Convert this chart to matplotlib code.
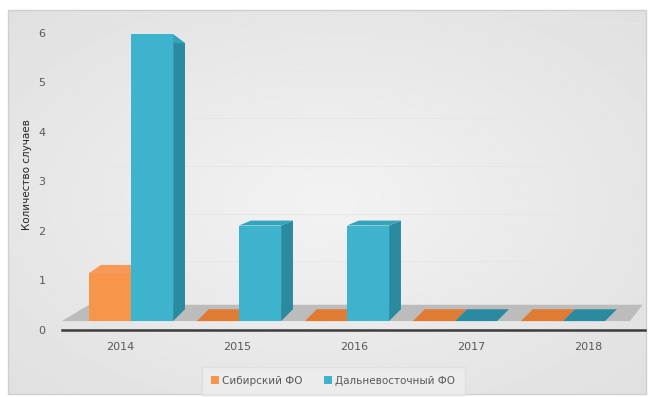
import numpy as np
import matplotlib.pyplot as plt
from matplotlib.patches import Polygon, Rectangle, Patch

years = ['2014', '2015', '2016', '2017', '2018']
siberian = [1, 0, 0, 0, 0]
far_east = [6, 2, 2, 0, 0]
series_names = ['Сибирский ФО', 'Дальневосточный ФО']
y_label = 'Количество случаев'

orange = ('#F7954C', '#E07B34', '#F59A58')   # front, side, top
blue = ('#3DB3CD', '#2A8BA0', '#34A3BC')

# pseudo 3d settings
base = 0.18      # bars stand on the front edge of the floor
scale = 0.965
dx = 0.11
vy, k = 3.5, 0.072


def dy(y):
    return k * (vy - y)


def bar3d(ax, x0, w, value, colors):
    front, side, top_c = colors
    top = base + value * scale
    if value > 0:
        ax.add_patch(Polygon([(x0 + w, base), (x0 + w, top), (x0 + w + dx, top + dy(top)),
                              (x0 + w + dx, base + dy(base))], closed=True, fc=side, ec='none', zorder=3))
    ax.add_patch(Polygon([(x0, top), (x0 + w, top), (x0 + w + dx, top + dy(top)),
                          (x0 + dx, top + dy(top))], closed=True, fc=top_c if value > 0 else side,
                         ec='none', zorder=3))
    if value > 0:
        ax.add_patch(Rectangle((x0, base), w, top - base, fc=front, ec='none', zorder=4))


fig = plt.figure(figsize=(6.5, 3.97), dpi=100)

# background panel with a soft radial gradient
bg = fig.add_axes([0, 0, 1, 1])
gx, gy = np.meshgrid(np.linspace(-1, 1, 300), np.linspace(-1, 1, 200))
r = np.sqrt(gx ** 2 + gy ** 2)
bg.imshow(0.95 - 0.05 * r, cmap='gray', vmin=0, vmax=1, extent=[8, 646, 394, 10],
          aspect='auto', zorder=0)
bg.add_patch(Rectangle((8, 10), 638, 384, fill=False, ec='#cfcfcf', lw=1, zorder=1))
bg.set_xlim(0, 650)
bg.set_ylim(397, 0)
bg.axis('off')

ax = fig.add_axes([62 / 650, 67 / 397, 583 / 650, 310 / 397])
ax.patch.set_alpha(0)
ax.set_xlim(-0.639, 4.76)
ax.set_ylim(0, 6.26)

# very faint gridlines on the back wall
for g in range(1, 7):
    yy = base + g * scale + dy(base)
    ax.plot([-0.4, 4.76], [yy, yy], color='#e6e6e6', lw=0.7, zorder=1)

# floor
fl, fr = -0.64, 4.62
ax.add_patch(Polygon([(fl, base), (fr, base), (fr + 0.12, base + 0.33), (fl + 0.25, base + 0.33)],
                     closed=True, fc='#bcbcbc', ec='none', zorder=2))

w = 0.39
x = np.arange(len(years))
for i in x:
    bar3d(ax, i - w, w, siberian[i], orange)
    bar3d(ax, i, w, far_east[i], blue)

ax.set_yticks(range(7))
ax.set_xticks(x * 1.083 - 0.10)
ax.set_xticklabels(years)
ax.tick_params(axis='y', length=0, pad=12, labelsize=8, labelcolor='#595959')
ax.tick_params(axis='x', length=0, pad=9, labelsize=8, labelcolor='#595959')
for s in ['top', 'right', 'left']:
    ax.spines[s].set_visible(False)
ax.spines['bottom'].set_color('#3c3c3c')
ax.spines['bottom'].set_linewidth(1.8)
ax.set_ylabel(y_label, fontsize=7.5, color='#262626', labelpad=7)
ax.yaxis.set_label_coords(-0.052, 0.5)

handles = [Patch(fc=orange[0], ec='none'), Patch(fc=blue[0], ec='none')]
leg = fig.legend(handles, series_names, loc='center', bbox_to_anchor=(333 / 650, 1 - 381 / 397),
                 ncol=2, fontsize=7.5, frameon=True, handlelength=0.8, handleheight=0.8,
                 handletextpad=0.3, columnspacing=2.0, borderpad=0.6)
leg.get_frame().set_facecolor('#eeeeee')
leg.get_frame().set_edgecolor('#dddddd')
leg.get_frame().set_boxstyle('square', pad=0.3)
for t in leg.get_texts():
    t.set_color('#595959')

fig.savefig('out.png', dpi=100)
